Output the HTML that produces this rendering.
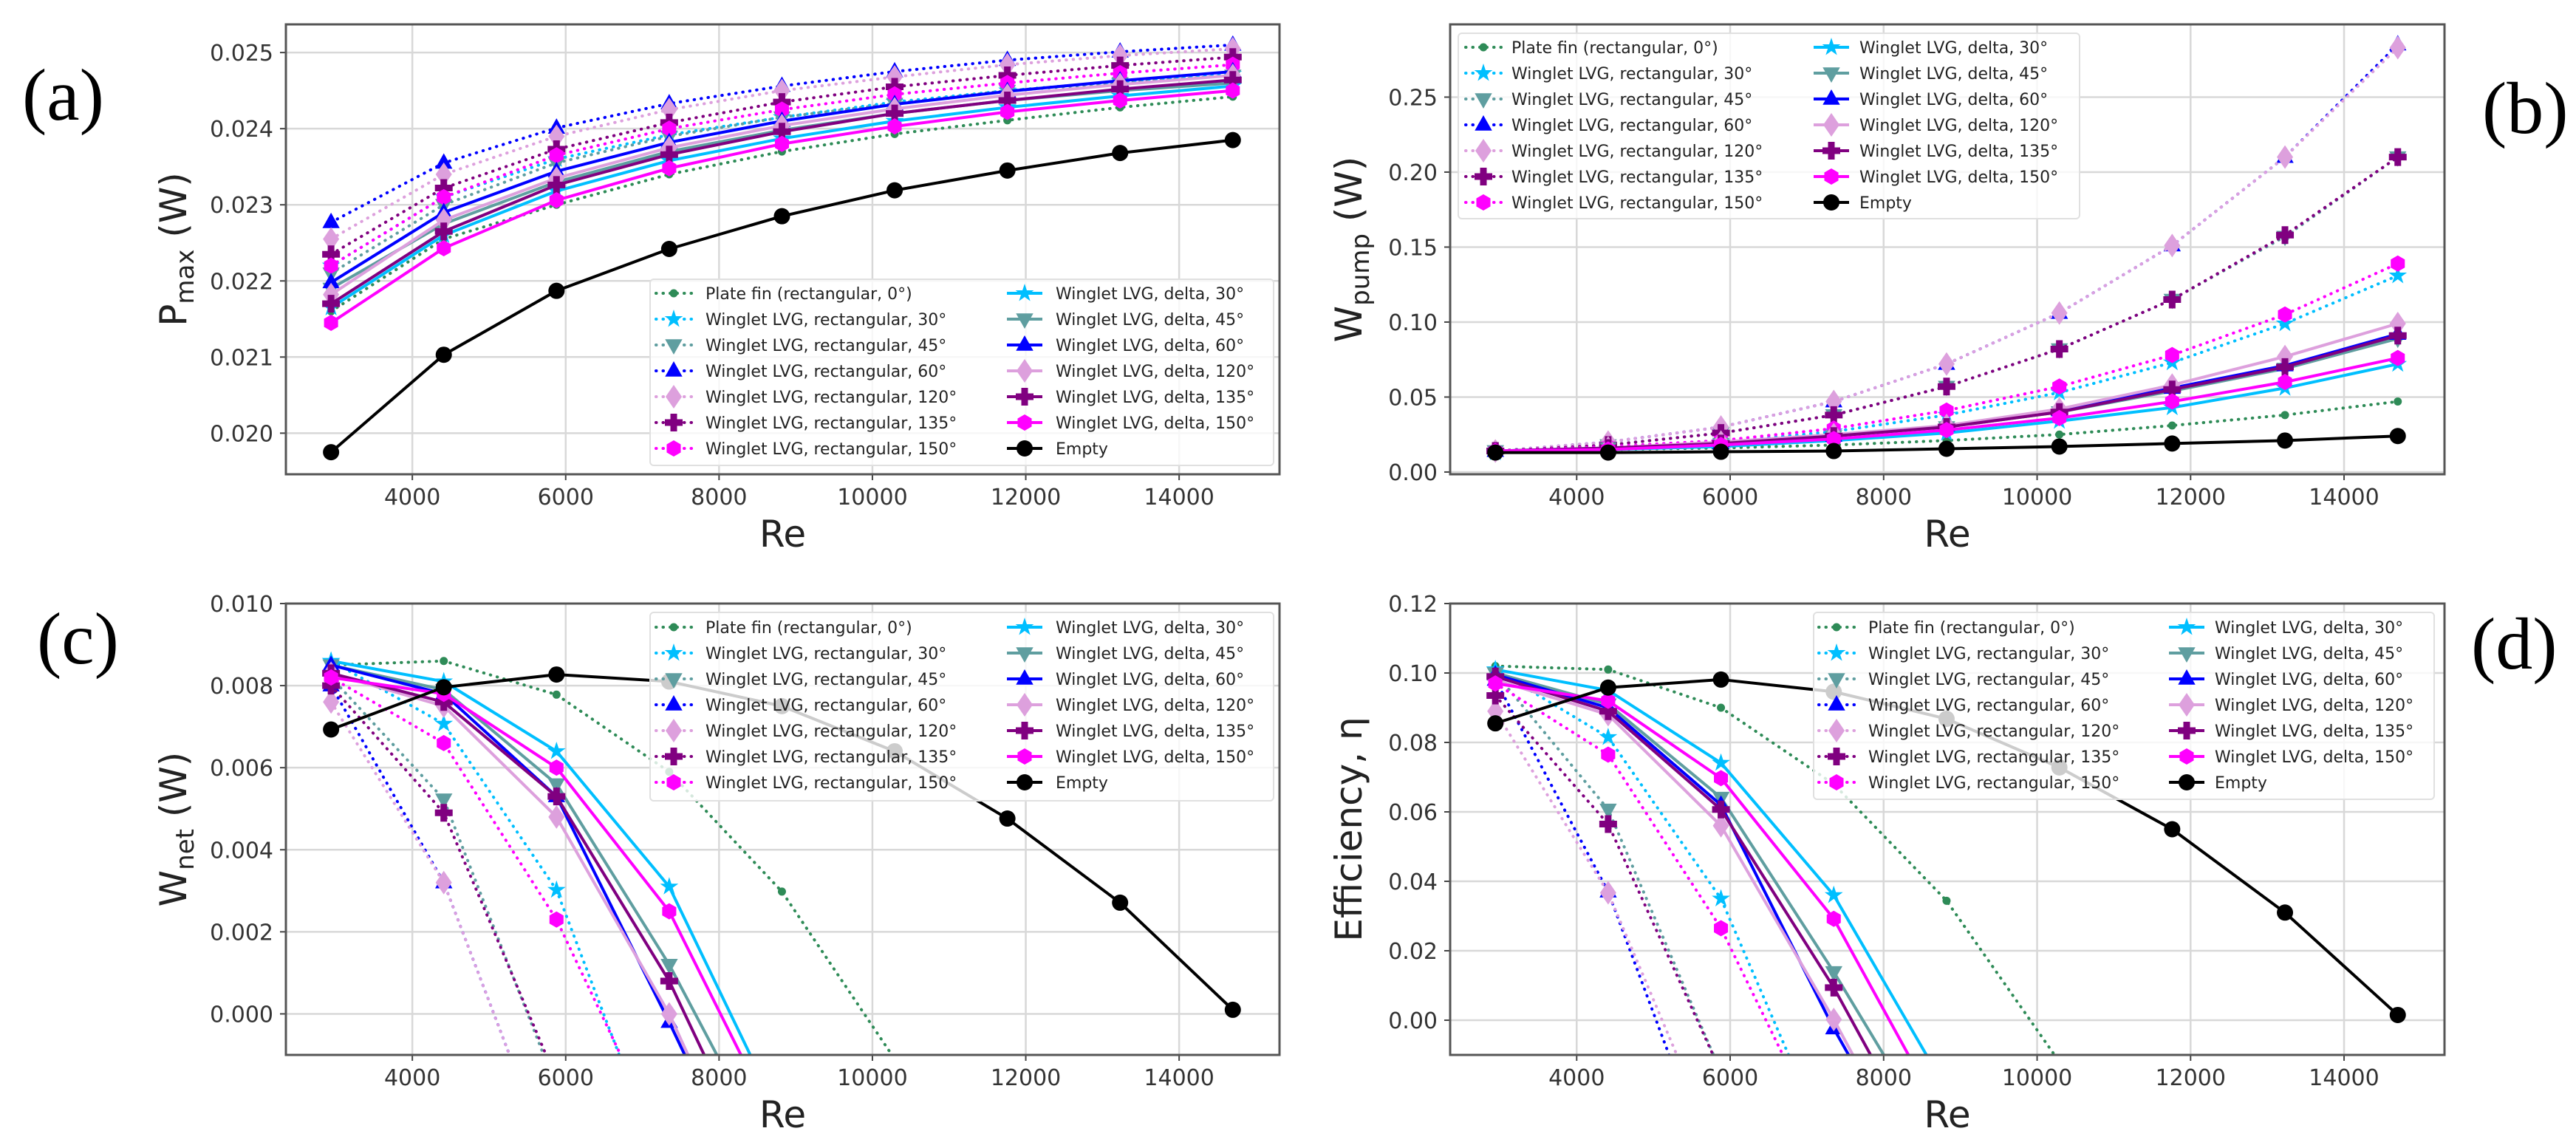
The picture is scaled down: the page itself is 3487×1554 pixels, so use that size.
<!DOCTYPE html>
<html><head><meta charset="utf-8"><style>
html,body{margin:0;padding:0;background:#fff;width:3487px;height:1554px;overflow:hidden;}
svg{display:block;}
text{font-family:"DejaVu Sans","Liberation Sans",sans-serif;}
</style></head><body>
<svg id="fig" width="3487" height="1554" viewBox="0 0 3487 1554" xmlns="http://www.w3.org/2000/svg" overflow="hidden">
<rect width="3487" height="1554" fill="#fff"/>
<text x="30" y="162" style="font-family:'Liberation Serif',serif" font-size="100">(a)</text>
<text x="3360" y="180" style="font-family:'Liberation Serif',serif" font-size="100">(b)</text>
<text x="50" y="898" style="font-family:'Liberation Serif',serif" font-size="100">(c)</text>
<text x="3345" y="905" style="font-family:'Liberation Serif',serif" font-size="100">(d)</text>
</svg>
<script>
const re = [2940, 4410, 5880, 7350, 8820, 10290, 11760, 13230, 14700];
const seriesNames = ["Plate fin (rectangular, 0°)","Winglet LVG, rectangular, 30°","Winglet LVG, rectangular, 45°","Winglet LVG, rectangular, 60°","Winglet LVG, rectangular, 120°","Winglet LVG, rectangular, 135°","Winglet LVG, rectangular, 150°","Winglet LVG, delta, 30°","Winglet LVG, delta, 45°","Winglet LVG, delta, 60°","Winglet LVG, delta, 120°","Winglet LVG, delta, 135°","Winglet LVG, delta, 150°","Empty"];
const pmax = [
 [0.02160,0.02255,0.02300,0.02340,0.02370,0.02393,0.02411,0.02428,0.02442],
 [0.02220,0.02310,0.02360,0.02392,0.02415,0.02435,0.02450,0.02462,0.02472],
 [0.02210,0.02300,0.02355,0.02390,0.02415,0.02433,0.02450,0.02460,0.02470],
 [0.02277,0.02355,0.02401,0.02433,0.02456,0.02475,0.02490,0.02501,0.02510],
 [0.02255,0.02340,0.02390,0.02425,0.02450,0.02468,0.02484,0.02496,0.02505],
 [0.02235,0.02322,0.02373,0.02408,0.02435,0.02455,0.02470,0.02483,0.02494],
 [0.02220,0.02310,0.02365,0.02400,0.02425,0.02445,0.02460,0.02473,0.02484],
 [0.02165,0.02260,0.02318,0.02358,0.02387,0.02410,0.02428,0.02443,0.02456],
 [0.02190,0.02275,0.02330,0.02370,0.02398,0.02420,0.02437,0.02450,0.02460],
 [0.02198,0.02290,0.02344,0.02382,0.02410,0.02432,0.02449,0.02463,0.02475],
 [0.02182,0.02280,0.02335,0.02375,0.02404,0.02426,0.02444,0.02458,0.02470],
 [0.02170,0.02265,0.02326,0.02366,0.02396,0.02420,0.02437,0.02452,0.02464],
 [0.02145,0.02243,0.02306,0.02348,0.02380,0.02403,0.02422,0.02437,0.02450],
 [0.01975,0.02103,0.02187,0.02242,0.02285,0.02319,0.02345,0.02368,0.02385]];
const wpump = [
 [0.014,0.015,0.016,0.018,0.021,0.025,0.031,0.038,0.047],
 [0.014,0.016,0.020,0.027,0.038,0.053,0.073,0.099,0.131],
 [0.014,0.018,0.026,0.038,0.057,0.082,0.115,0.157,0.210],
 [0.014,0.020,0.030,0.047,0.072,0.106,0.151,0.210,0.285],
 [0.014,0.020,0.030,0.047,0.072,0.106,0.151,0.210,0.283],
 [0.014,0.018,0.026,0.038,0.057,0.082,0.115,0.158,0.210],
 [0.014,0.017,0.021,0.029,0.041,0.057,0.078,0.105,0.139],
 [0.013,0.015,0.017,0.021,0.026,0.034,0.043,0.056,0.072],
 [0.014,0.016,0.019,0.024,0.030,0.040,0.054,0.069,0.089],
 [0.014,0.016,0.019,0.024,0.031,0.041,0.056,0.071,0.092],
 [0.014,0.016,0.020,0.025,0.031,0.042,0.058,0.077,0.099],
 [0.014,0.016,0.019,0.024,0.030,0.040,0.055,0.070,0.091],
 [0.014,0.015,0.018,0.022,0.028,0.036,0.047,0.060,0.076],
 [0.013,0.013,0.0135,0.014,0.0155,0.017,0.019,0.021,0.024]];
const wnet = [
 [0.0085,0.0086,0.00778,0.0059,0.00298,-0.0011,-0.006,-0.012,-0.02],
 [0.0086,0.00707,0.00302,-0.0042,-0.012,-0.02,-0.03,-0.04,-0.05],
 [0.0082,0.00523,-0.0018,-0.01,-0.02,-0.03,-0.04,-0.05,-0.06],
 [0.0080,0.0032,-0.004,-0.014,-0.024,-0.034,-0.044,-0.054,-0.064],
 [0.0076,0.0032,-0.004,-0.014,-0.024,-0.034,-0.044,-0.054,-0.064],
 [0.0080,0.0049,-0.0016,-0.01,-0.02,-0.03,-0.04,-0.05,-0.06],
 [0.0082,0.0066,0.0023,-0.0035,-0.012,-0.02,-0.03,-0.04,-0.05],
 [0.0086,0.0081,0.0064,0.0031,-0.0026,-0.01,-0.02,-0.03,-0.04],
 [0.0085,0.0079,0.0056,0.0012,-0.004,-0.012,-0.02,-0.03,-0.04],
 [0.0085,0.0078,0.0053,-0.0002,-0.006,-0.014,-0.02,-0.03,-0.04],
 [0.0083,0.0075,0.0048,0.0000,-0.006,-0.014,-0.02,-0.03,-0.04],
 [0.0083,0.0076,0.0053,0.0008,-0.005,-0.013,-0.02,-0.03,-0.04],
 [0.0082,0.0078,0.0060,0.0025,-0.003,-0.011,-0.02,-0.03,-0.04],
 [0.00693,0.00796,0.00827,0.0081,0.0075,0.0064,0.00476,0.00271,0.0001]];
const eff = [
 [0.102,0.101,0.090,0.068,0.0344,-0.012,-0.06,-0.12,-0.2],
 [0.101,0.0815,0.035,-0.04,-0.12,-0.2,-0.3,-0.4,-0.5],
 [0.100,0.0607,-0.015,-0.1,-0.2,-0.3,-0.4,-0.5,-0.6],
 [0.098,0.037,-0.05,-0.15,-0.25,-0.35,-0.45,-0.55,-0.65],
 [0.089,0.0367,-0.04,-0.14,-0.24,-0.34,-0.44,-0.54,-0.64],
 [0.0935,0.0565,-0.015,-0.1,-0.2,-0.3,-0.4,-0.5,-0.6],
 [0.097,0.0765,0.0265,-0.04,-0.12,-0.2,-0.3,-0.4,-0.5],
 [0.101,0.095,0.0741,0.036,-0.02,-0.1,-0.2,-0.3,-0.4],
 [0.100,0.091,0.0641,0.0139,-0.04,-0.12,-0.2,-0.3,-0.4],
 [0.0995,0.090,0.062,-0.0024,-0.06,-0.14,-0.2,-0.3,-0.4],
 [0.098,0.088,0.056,0.0002,-0.06,-0.14,-0.2,-0.3,-0.4],
 [0.099,0.089,0.0607,0.0094,-0.05,-0.13,-0.2,-0.3,-0.4],
 [0.097,0.092,0.0697,0.0292,-0.03,-0.11,-0.2,-0.3,-0.4],
 [0.0855,0.0958,0.0981,0.0946,0.0868,0.0728,0.055,0.031,0.0015]];
const xTicks = [4000, 6000, 8000, 10000, 12000, 14000];
const yTicksA = [0.020,0.021,0.022,0.023,0.024,0.025];
const yTicksB = [0.00,0.05,0.10,0.15,0.20,0.25];
const yTicksC = [0.000,0.002,0.004,0.006,0.008,0.010];
const yTicksD = [0.00,0.02,0.04,0.06,0.08,0.10,0.12];

const colors=["#2e8b57","#00bfff","#5f9ea0","#0000ff","#dda0dd","#800080","#ff00ff","#00bfff","#5f9ea0","#0000ff","#dda0dd","#800080","#ff00ff","#000000"];
const markers=[".","*","v","^","D","P","h","*","v","^","D","P","h","o"];
const dotted=[true,true,true,true,true,true,true,false,false,false,false,false,false,false];
const NS="http://www.w3.org/2000/svg";
const svg=document.getElementById('fig');
function mk(tag,attrs,parent){const e=document.createElementNS(NS,tag);for(const k in attrs)e.setAttribute(k,attrs[k]);(parent||svg).appendChild(e);return e;}
function markerShape(g,m,x,y,c,s){
  s=s||1;let e;
  if(m==="."){e=mk('circle',{cx:x,cy:y,r:5.5*s,fill:c},g);}
  else if(m==="o"){e=mk('circle',{cx:x,cy:y,r:11*s,fill:c},g);}
  else if(m==="h"){let p=[];for(let i=0;i<6;i++){const a=Math.PI/6+i*Math.PI/3;p.push((x+11*s*Math.cos(a))+","+(y+11*s*Math.sin(a)));}e=mk('polygon',{points:p.join(" "),fill:c},g);}
  else if(m==="D"){const r=16*s,w=11*s;e=mk('polygon',{points:`${x},${y-r} ${x+w},${y} ${x},${y+r} ${x-w},${y}`,fill:c},g);}
  else if(m==="^"){const r=13*s;e=mk('polygon',{points:`${x},${y-r} ${x+r*0.9},${y+r*0.6} ${x-r*0.9},${y+r*0.6}`,fill:c},g);}
  else if(m==="v"){const r=13*s;e=mk('polygon',{points:`${x},${y+r} ${x+r*0.9},${y-r*0.6} ${x-r*0.9},${y-r*0.6}`,fill:c},g);}
  else if(m==="P"){const a=4.5*s,b=12*s;e=mk('polygon',{points:`${x-a},${y-b} ${x+a},${y-b} ${x+a},${y-a} ${x+b},${y-a} ${x+b},${y+a} ${x+a},${y+a} ${x+a},${y+b} ${x-a},${y+b} ${x-a},${y+a} ${x-b},${y+a} ${x-b},${y-a} ${x-a},${y-a}`,fill:c},g);}
  else if(m==="*"){let p=[];for(let i=0;i<10;i++){const a=-Math.PI/2+i*Math.PI/5;const r=(i%2?5:13)*s;p.push((x+r*Math.cos(a))+","+(y+r*Math.sin(a)));}e=mk('polygon',{points:p.join(" "),fill:c},g);}
  return e;
}
function panel(cfg){
  const {id,L,R,T,B,xlim,ylim,yticks,dec,data,ylab,sub,leg}=cfg;
  const sx=v=>L+(v-xlim[0])/(xlim[1]-xlim[0])*(R-L);
  const sy=v=>B-(v-ylim[0])/(ylim[1]-ylim[0])*(B-T);
  const g=mk('g',{});
  
  
  const cp=mk('clipPath',{id:'clip-'+id},g);mk('rect',{x:L,y:T,width:R-L,height:B-T},cp);
  const grid=mk('g',{stroke:'#d8d8d8','stroke-width':2.5},g);
  
  
  xTicks.forEach(t=>{const x=sx(t);mk('line',{x1:x,x2:x,y1:T,y2:B},grid);
    mk('line',{x1:x,x2:x,y1:B,y2:B+8,stroke:'#444','stroke-width':2},g);
    const tx=mk('text',{x:x,y:B+41,'font-size':30,'text-anchor':'middle',fill:'#333'},g);tx.textContent=t;
    
    });
  yticks.forEach(t=>{const y=sy(t);mk('line',{x1:L,x2:R,y1:y,y2:y},grid);
    mk('line',{x1:L-8,x2:L,y1:y,y2:y,stroke:'#444','stroke-width':2},g);
    const tx=mk('text',{x:L-17,y:y+11,'font-size':30,'text-anchor':'end',fill:'#333'},g);tx.textContent=t.toFixed(dec);
    
    });
  const plot=mk('g',{'clip-path':`url(#clip-${id})`},g);
  const lo=ylim[0];
  data.forEach((ys,i)=>{
    const sg=mk('g',{},plot);
    
    
    // build clipped points: stop where line crosses the lower y limit
    const pts=[];
    for(let j=0;j<re.length;j++){
      if(ys[j]>=lo){pts.push(sx(re[j])+","+sy(ys[j]));}
      else{
        if(j>0&&ys[j-1]>=lo){const f=(ys[j-1]-lo)/(ys[j-1]-ys[j]);const xr=re[j-1]+f*(re[j]-re[j-1]);pts.push(sx(xr)+","+sy(lo));}
        break;
      }
    }
    const pl=mk('polyline',{points:pts.join(" "),fill:'none',stroke:colors[i],'stroke-width':4,'stroke-linecap':dotted[i]?'round':'butt','stroke-linejoin':'round'},sg);
    if(dotted[i])pl.setAttribute('stroke-dasharray','0.5 9');
    re.forEach((r,j)=>{if(ys[j]<lo)return;const m=markerShape(sg,markers[i],sx(r),sy(ys[j]),colors[i]);
      
      });
  });
  mk('rect',{x:L,y:T,width:R-L,height:B-T,fill:'none',stroke:'#555','stroke-width':3},g);
  const xl=mk('text',{x:(L+R)/2,y:B+98,'font-size':50,'text-anchor':'middle',fill:'#222'},g);xl.textContent='Re';
  
  
  const yx=cfg.ylx,yy=(T+B)/2;
  const yl=mk('text',{x:yx,y:yy,'font-size':50,'text-anchor':'middle',fill:'#222',transform:`rotate(-90 ${yx} ${yy})`},g);
  
  
  if(sub){const t1=mk('tspan',{},yl);t1.textContent=ylab;const t2=mk('tspan',{'font-size':34,dy:10},yl);t2.textContent=sub;const t3=mk('tspan',{dy:-10},yl);t3.textContent=' (W)';}
  else yl.textContent=ylab;
  const lg=mk('g',{},g);
  
  
  mk('rect',{x:leg.x0,y:leg.y0,width:leg.x1-leg.x0,height:leg.y1-leg.y0,rx:5,fill:'#fff','fill-opacity':0.8,stroke:'#e0e0e0','stroke-width':2},lg);
  seriesNames.forEach((n,i)=>{
    const col=i<7?0:1,row=i%7;
    const hx=col?leg.h2:leg.h1,tx=col?leg.t2:leg.t1,y=leg.r0+row*35;
    const e=mk('g',{},lg);
    
    
    const ln=mk('line',{x1:hx,x2:hx+48,y1:y,y2:y,stroke:colors[i],'stroke-width':4,'stroke-linecap':dotted[i]?'round':'butt'},e);
    if(dotted[i])ln.setAttribute('stroke-dasharray','0.5 9');
    markerShape(e,markers[i],hx+24,y,colors[i]);
    const t=mk('text',{x:tx,y:y+8,'font-size':22,fill:'#222'},e);t.textContent=n;
  });
}
panel({id:'a',L:387,R:1732,T:33,B:642,xlim:[2351,15309],ylim:[0.01946,0.02537],yticks:yTicksA,dec:3,data:pmax,ylab:'P',sub:'max',ylx:252,
  leg:{x0:880,x1:1724,y0:378,y1:630,r0:397,h1:888,t1:955,h2:1363,t2:1429}});
panel({id:'b',L:1963,R:3309,T:33,B:642,xlim:[2351,15309],ylim:[-0.0015,0.2985],yticks:yTicksB,dec:2,data:wpump,ylab:'W',sub:'pump',ylx:1843,
  leg:{x0:1974,x1:2815,y0:45,y1:296,r0:64,h1:1984,t1:2046,h2:2455,t2:2517}});
panel({id:'c',L:387,R:1732,T:817,B:1428,xlim:[2351,15309],ylim:[-0.001,0.010],yticks:yTicksC,dec:3,data:wnet,ylab:'W',sub:'net',ylx:252,
  leg:{x0:880,x1:1724,y0:829,y1:1084,r0:849,h1:888,t1:955,h2:1363,t2:1429}});
panel({id:'d',L:1963,R:3309,T:817,B:1428,xlim:[2351,15309],ylim:[-0.01,0.12],yticks:yTicksD,dec:2,data:eff,ylab:'Efficiency, η',sub:null,ylx:1843,
  leg:{x0:2455,x1:3295,y0:829,y1:1082,r0:849,h1:2462,t1:2529,h2:2936,t2:2998}});
</script>
</body></html>
